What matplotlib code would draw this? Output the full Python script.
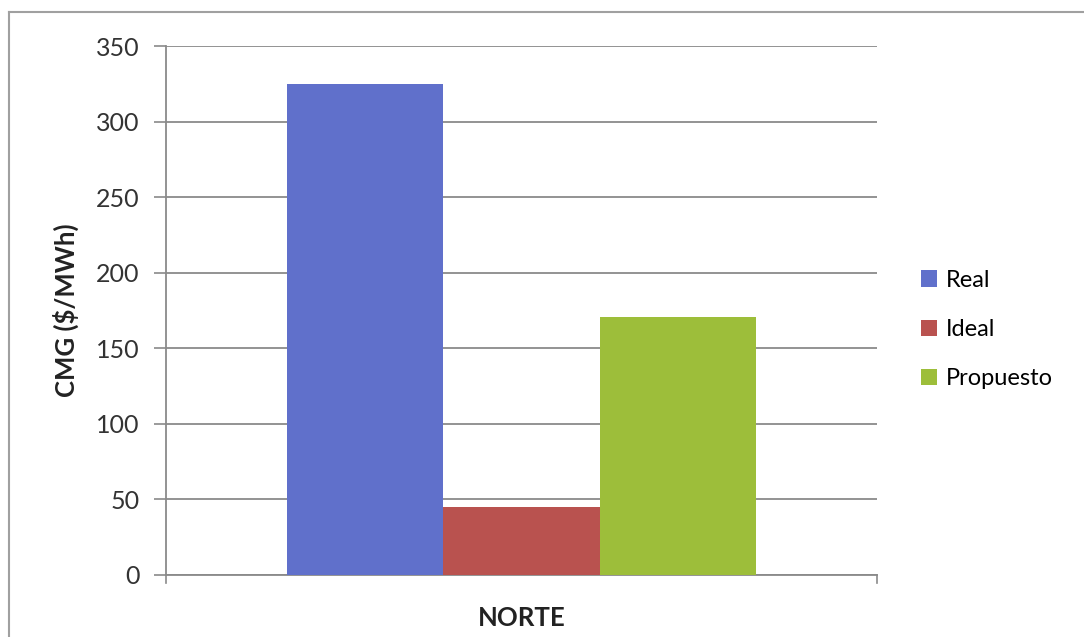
import matplotlib
matplotlib.use("Agg")
import matplotlib.pyplot as plt
from matplotlib.patches import Patch
from matplotlib.lines import Line2D

plt.rcParams['font.family'] = ['Lato', 'DejaVu Sans']

# Data
category = ["NORTE"]
series = ["Real", "Ideal", "Propuesto"]
values = [325, 45, 171]
colors = ["#6070CB", "#B9524F", "#9DBE3A"]
y_ticks = [0, 50, 100, 150, 200, 250, 300, 350]

W, H = 1084, 637
fig = plt.figure(figsize=(W / 100, H / 100), dpi=100)
ax = fig.add_axes([166 / W, 1 - 575 / H, (877 - 166) / W, (575 - 46) / H])

bar_w = 0.22
offsets = [-bar_w, 0, bar_w]
for name, val, col, off in zip(series, values, colors, offsets):
    ax.bar(0 + off, val, width=bar_w, color=col, label=name, zorder=3)

ax.set_xlim(-0.5, 0.5)
ax.set_ylim(0, 350)
ax.set_yticks(y_ticks)
ax.set_yticklabels([str(t) for t in y_ticks], fontsize=18, color="#333333")
ax.yaxis.grid(True, color="#8a8a8a", linewidth=1.3, zorder=0)
ax.tick_params(axis='y', length=9, width=1.2, color="#8a8a8a", pad=10)

ax.set_xticks([0])
ax.set_xticklabels(category, fontsize=18.5, fontweight="bold", color="#222222")
ax.tick_params(axis='x', length=0, pad=22)
# category boundary ticks
for xb in (-0.5, 0.5):
    ax.plot([xb, xb], [0, -5], color="#8a8a8a", lw=1.2, clip_on=False, zorder=1)

for s in ("top", "right"):
    ax.spines[s].set_visible(False)
ax.spines["left"].set_color("#8a8a8a")
ax.spines["left"].set_linewidth(1.3)
ax.spines["bottom"].set_color("#8a8a8a")
ax.spines["bottom"].set_linewidth(1.3)

ax.set_ylabel("CMG ($/MWh)", fontsize=18.5, fontweight="bold", color="#222222", labelpad=12)

handles = [Patch(facecolor=c, edgecolor="none") for c in colors]
fig.legend(handles, series, loc="upper left", bbox_to_anchor=(909 / W, 1 - 258 / H),
           frameon=False, fontsize=17, handlelength=0.7, handleheight=0.7,
           handletextpad=0.35, labelspacing=1.2, borderpad=0)

# outer chart border (top and left edges visible)
fig.add_artist(Line2D([9 / W, 9 / W], [0, 1 - 12 / H], transform=fig.transFigure,
                      color="#a0a0a0", lw=1.5))
fig.add_artist(Line2D([9 / W, 1], [1 - 12 / H, 1 - 12 / H], transform=fig.transFigure,
                      color="#a0a0a0", lw=1.5))

fig.savefig("out.png", dpi=100)
